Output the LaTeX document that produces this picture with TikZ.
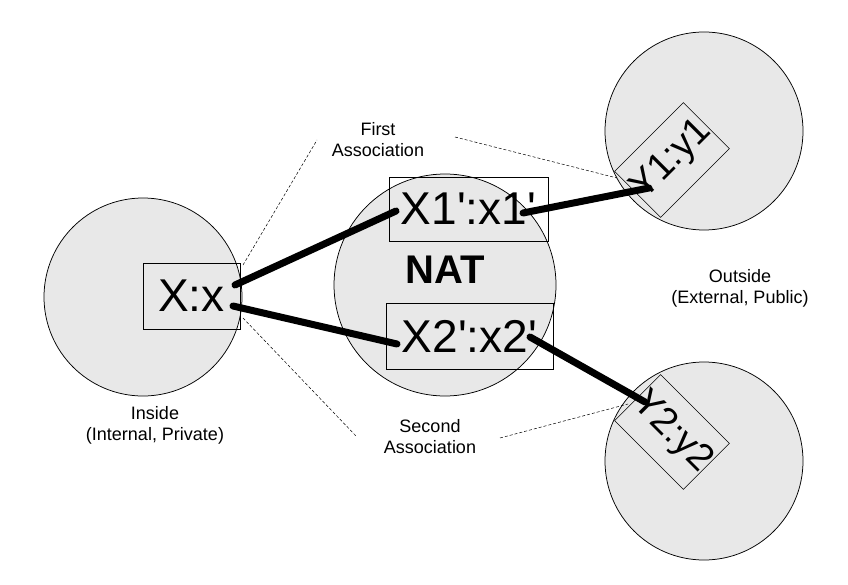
\documentclass[tikz,border=0pt]{standalone}
\usepackage{fontspec}
\setmainfont{Liberation Sans}
\tikzset{every picture/.style={line width=0.75pt}}
\tikzset{
  realm/.style={draw, circle, fill={rgb,255:red,232;green,232;blue,232}, minimum size=198pt, inner sep=0pt},
  addr/.style={draw, rectangle, inner sep=0pt, line width=0.6pt, font=\fontsize{46}{46}\selectfont},
  link/.style={line width=7pt, line cap=round},
  hint/.style={dashed, dash pattern=on 3pt off 2pt, line width=0.5pt},
  caption/.style={align=center, font=\fontsize{18}{21}\selectfont}
}
\newcommand{\pr}{\textquotesingle}
\begin{document}
\begin{tikzpicture}[x=1pt,y=1pt,yscale=-1,xscale=1]
\useasboundingbox (0,0) rectangle (848,585);

% Circles
\node [realm] (inside) at (143,297) {};
\node [realm, minimum size=222pt] (nat) at (445,285) {};
\node [realm] (out1) at (704,131) {};
\node [realm] (out2) at (704,461) {};

% Address boxes
\node [addr, minimum width=97pt, minimum height=66pt] (xx) at (191.5,296) {X:x};
\node [addr, minimum width=159pt, minimum height=64pt] (x1) at (468.5,209) {X1\pr:x1\pr};
\node [addr, minimum width=167pt, minimum height=66pt] (x2) at (469.5,336) {X2\pr:x2\pr};
\node [addr, minimum width=94pt, minimum height=65pt, rotate=45, font=\fontsize{38}{38}\selectfont] (y1) at (672,160) {Y1:y1};
\node [addr, minimum width=94pt, minimum height=65pt, rotate=-45, font=\fontsize{38}{38}\selectfont] (y2) at (672,432) {Y2:y2};
\node [font=\fontsize{40}{40}\selectfont\bfseries] (natlabel) at (445,270) {NAT};

% Link ends
\coordinate (xxa) at (235,285);
\coordinate (xxb) at (233,306);
\coordinate (x1a) at (396,211);
\coordinate (x1b) at (523,213);
\coordinate (x2a) at (397,344);
\coordinate (x2b) at (530,337);
\coordinate (y1a) at (649,188);
\coordinate (y2a) at (645,402);

% Links
\draw [link] (xxa) -- (x1a);
\draw [link] (xxb) -- (x2a);
\draw [link] (x1b) -- (y1a);
\draw [link] (x2b) -- (y2a);

% Text Node
\node [caption] (first) at (378,140) {First\\Association};
\node [caption] (second) at (430,437) {Second\\Association};
\node [caption] (inlabel) at (155,425) {Inside\\(Internal, Private)};
\node [caption] (outlabel) at (740,288) {Outside\\(External, Public)};

% Hint lines
\coordinate (h1) at (243,265);
\coordinate (h2) at (317,140);
\coordinate (h3) at (243,318);
\coordinate (h4) at (357,437);
\coordinate (h5) at (455,137);
\coordinate (h6) at (617,178);
\coordinate (h7) at (500,438);
\coordinate (h8) at (628,404);
\draw [hint] (h1) -- (h2);
\draw [hint] (h3) -- (h4);
\draw [hint] (h5) -- (h6);
\draw [hint] (h7) -- (h8);

\end{tikzpicture}
\end{document}
